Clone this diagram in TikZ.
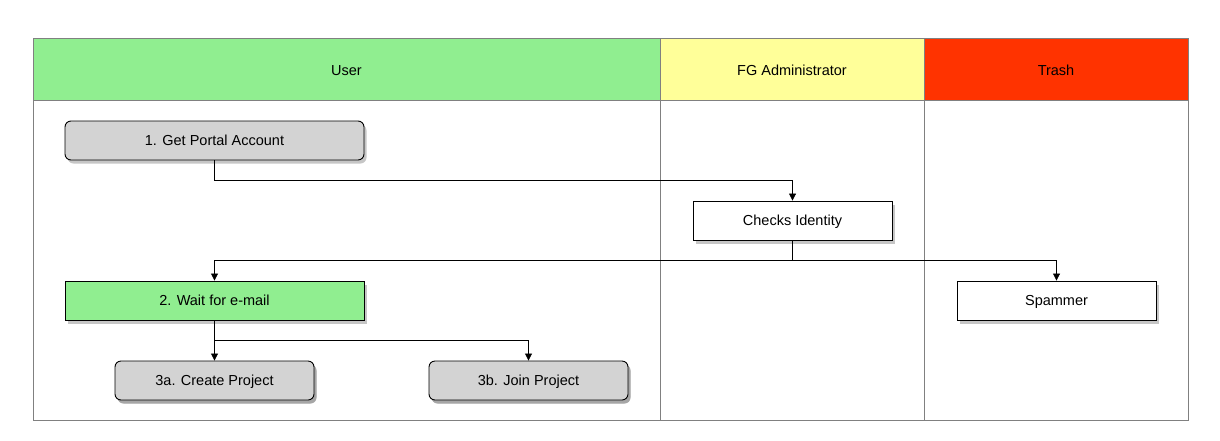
\documentclass[tikz,border=0pt]{standalone}
\usepackage{fontspec}
\setmainfont{Liberation Sans}
\usetikzlibrary{arrows.meta,shadows}

\definecolor{usergreen}{HTML}{90EE90}
\definecolor{adminyellow}{HTML}{FFFF99}
\definecolor{trashred}{HTML}{FF3300}
\definecolor{boxgray}{HTML}{D3D3D3}
\definecolor{lanegray}{HTML}{808080}

\tikzset{
  lane/.style={draw=lanegray, line width=1pt},
  label/.style={font=\fontsize{14.5}{16}\selectfont, text depth=0pt, yshift=-1.5pt},
  task/.style={draw=black, line width=0.9pt, minimum width=299pt, minimum height=39pt,
    inner sep=0pt, font=\fontsize{14.5}{16}\selectfont, text depth=0pt,
    drop shadow={opacity=0.45, shadow xshift=2.5pt, shadow yshift=-3.5pt}},
  roundtask/.style={task, rounded corners=6pt, fill=boxgray},
  smalltask/.style={task, minimum width=199pt},
  flow/.style={-{Triangle[length=7pt,width=7pt]}, line width=0.8pt}
}

\begin{document}
\begin{tikzpicture}[x=1pt,y=-1pt]
    \useasboundingbox (0,0) rectangle (1220,440);

    % pool and lanes
    \fill[usergreen] (33,38) rectangle (660,100);
    \fill[adminyellow] (660,38) rectangle (924,100);
    \fill[trashred] (924,38) rectangle (1188,100);
    \draw[lane] (33,38) rectangle (1188,420);
    \draw[lane] (33,100) -- (1188,100);
    \draw[lane] (660,38) -- (660,420);
    \draw[lane] (924,38) -- (924,420);

    \node[label] (huser) at (346.5,69) {User};
    \node[label] (hadmin) at (792,69) {FG Administrator};
    \node[label] (htrash) at (1056,69) {Trash};

    % tasks
    \node[roundtask] (account) at (214.5,140.5) {1. Get Portal Account};
    \node[smalltask, fill=white] (identity) at (792.5,220.5) {Checks Identity};
    \node[task, fill=usergreen] (wait) at (214.5,300.5) {2. Wait for e-mail};
    \node[smalltask, fill=white] (spammer) at (1056.5,300.5) {Spammer};
    \node[roundtask, smalltask] (create) at (214.5,380.5) {3a. Create Project};
    \node[roundtask, smalltask] (join) at (528.5,380.5) {3b. Join Project};

    % flows
    \draw[flow] (account.south) -- ++(0,20) -| (identity.north);
    \draw[flow] (identity.south) -- ++(0,20) -| (wait.north);
    \draw[flow] (identity.south) -- ++(0,20) -| (spammer.north);
    \draw[flow] (wait.south) -- ++(0,20) -| (create.north);
    \draw[flow] (wait.south) -- ++(0,20) -| (join.north);
  \end{tikzpicture}
\end{document}
